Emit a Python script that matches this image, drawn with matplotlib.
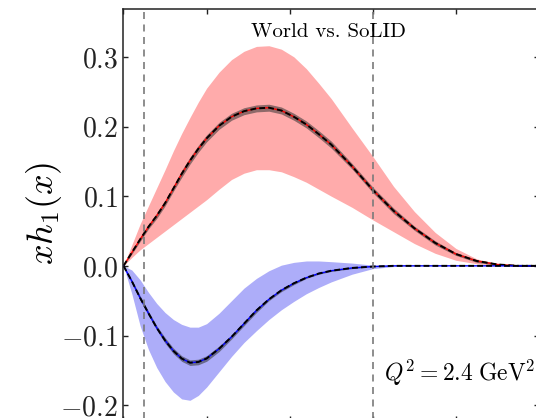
import matplotlib
matplotlib.use("Agg")
import matplotlib.pyplot as plt
import numpy as np

plt.rcParams['font.family'] = 'serif'
plt.rcParams['font.serif'] = ['cmr10']
plt.rcParams['mathtext.fontset'] = 'cm'
plt.rcParams['axes.formatter.use_mathtext'] = True

# x grid and transversity curves (world fit band + central value)
x = [0, .02, .04, .06, .08, .10, .12, .14, .16, .18, .20, .23, .26, .29, .32, .35,
     .38, .41, .44, .47, .50, .55, .60, .65, .70, .75, .80, .85, .90, .95, 1.0]

u_mid = [0, .019, .038, .056, .072, .090, .111, .132, .151, .168, .183, .201, .214, .222, .226, .227,
         .223, .214, .203, .189, .174, .143, .109, .079, .054, .033, .017, .007, .002, 0, 0]
u_hi = [0, .030, .060, .086, .112, .138, .165, .190, .213, .235, .255, .278, .296, .308, .315, .316,
        .311, .300, .283, .262, .240, .198, .157, .114, .078, .048, .025, .010, .003, 0, 0]
u_lo = [0, .012, .023, .032, .041, .050, .059, .068, .077, .086, .095, .110, .124, .133, .138, .138,
        .135, .128, .120, .110, .100, .084, .066, .049, .032, .018, .008, .003, .001, 0, 0]

d_mid = [0, -.022, -.046, -.068, -.089, -.107, -.122, -.133, -.139, -.138, -.133, -.119, -.102, -.083, -.064, -.048,
         -.035, -.025, -.017, -.011, -.007, -.003, -.001, 0, 0, 0, 0, 0, 0, 0, 0]
d_lo = [0, -.040, -.086, -.120, -.146, -.166, -.181, -.191, -.193, -.186, -.174, -.152, -.130, -.110, -.093, -.077,
        -.063, -.051, -.040, -.031, -.023, -.012, -.004, -.001, 0, 0, 0, 0, 0, 0, 0]
d_hi = [0, -.006, -.020, -.038, -.054, -.067, -.077, -.084, -.088, -.088, -.083, -.068, -.050, -.032, -.018, -.007,
        .001, .005, .007, .007, .006, .004, .001, 0, 0, 0, 0, 0, 0, 0, 0]

# SoLID projected uncertainty (half width)
u_solid = [0, .002, .003, .003, .004, .004, .004, .005, .005, .005, .005, .005, .005, .005, .005, .005,
           .005, .005, .005, .005, .005, .004, .004, .004, .003, .003, .002, .002, .001, 0, 0]
d_solid = [0, .002, .003, .003, .003, .004, .004, .004, .004, .004, .004, .004, .003, .003, .003, .002,
           .002, .002, .001, .001, .001, .001, 0, 0, 0, 0, 0, 0, 0, 0, 0]

x_range = [0.05, 0.6]

fig = plt.figure(figsize=(5.36, 4.18), dpi=100)
ax = fig.add_axes([0.2304, -0.006, 0.7752, 0.9833])

ax.fill_between(x, u_lo, u_hi, color='#ffabab', lw=0)
ax.fill_between(x, d_lo, d_hi, color='#adadf9', lw=0)

for mid, err, col in [(u_mid, u_solid, 'r'), (d_mid, d_solid, 'b')]:
    mid = np.array(mid)
    err = np.array(err)
    ax.fill_between(x, mid - err, mid + err, color='#333333', alpha=0.55, lw=0)
    ax.plot(x, mid, color=col, lw=1.0)
    ax.plot(x, mid, color='k', lw=1.4, dashes=(3, 1.6))

for xv in x_range:
    ax.axvline(xv, color='#7a7a7a', lw=1.2, dashes=(4.2, 3.3))

ax.set_xlim(0, 1)
ax.set_ylim(-0.222, 0.368)
ax.set_xticks([0, 0.2, 0.4, 0.6, 0.8, 1.0])
ax.set_yticks([-0.2, -0.1, 0.0, 0.1, 0.2, 0.3])
ax.yaxis.set_major_formatter(matplotlib.ticker.FuncFormatter(lambda v, p: r'$%.1f$' % v))
ax.tick_params(direction='in', length=3.6, width=1.0, top=True, right=True,
               labelbottom=False, labelsize=20, pad=4, colors='#222222')
for s in ax.spines.values():
    s.set_linewidth(1.1)
    s.set_color('#222222')

ax.set_ylabel(r'$xh_1(x)$', fontsize=26)
ax.yaxis.set_label_coords(-0.143, 0.505)

ax.text(0.493, 0.933, 'World vs. SoLID', transform=ax.transAxes,
        ha='center', va='baseline', fontsize=15)
ax.text(0.99, 0.096, r'$Q^2 = 2.4\;\mathrm{GeV}^2$', transform=ax.transAxes,
        ha='right', va='baseline', fontsize=17)

fig.savefig('out.png', dpi=100)
